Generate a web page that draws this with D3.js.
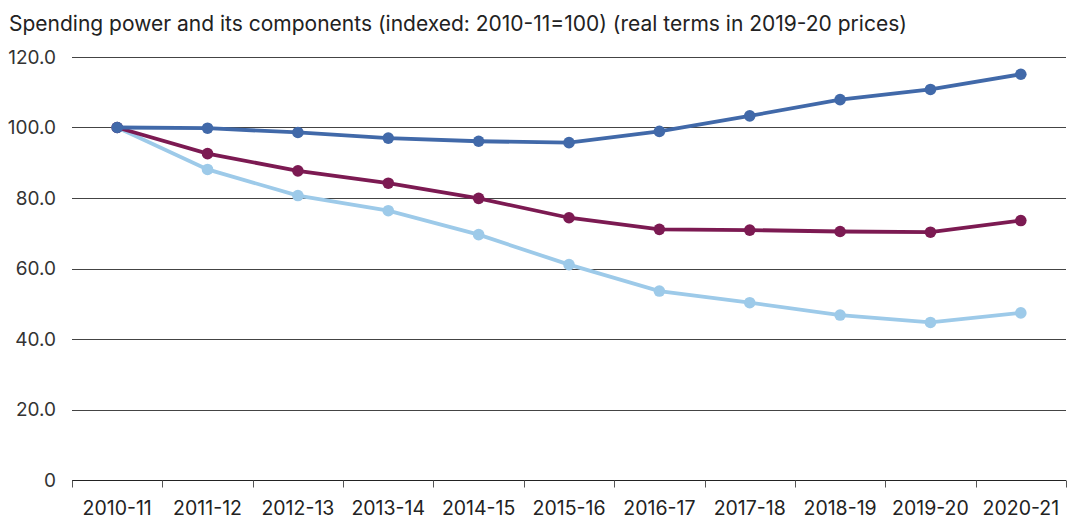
<!DOCTYPE html>
<html>
<head>
<meta charset="utf-8">
<script src="https://cdn.jsdelivr.net/npm/d3@7"></script>
<style>
  body { margin: 0; background: #fff; }
  text { font-family: Inter, "Liberation Sans", Arial, sans-serif; fill: #222; }
</style>
</head>
<body>
<div id="chart"></div>
<script>
// data
var years = ["2010-11", "2011-12", "2012-13", "2013-14", "2014-15", "2015-16",
             "2016-17", "2017-18", "2018-19", "2019-20", "2020-21"];
var spendingPower = [100, 99.8, 98.6, 97.0, 96.1, 95.7, 98.9, 103.3, 107.9, 110.8, 115.1];
var midComponent  = [100, 92.6, 87.7, 84.2, 79.9, 74.4, 71.1, 70.9, 70.5, 70.3, 73.6];
var lowComponent  = [100, 88.1, 80.7, 76.4, 69.6, 61.1, 53.6, 50.3, 46.8, 44.7, 47.4];
var yTicks = [0, 20, 40, 60, 80, 100, 120];

var series = [
  {values: lowComponent, color: "#9dcae9"},
  {values: midComponent, color: "#7c1a52"},
  {values: spendingPower, color: "#4169a9"}
];

var W = 1071, H = 520;
var margin = {top: 57, right: 5, bottom: 40, left: 72};

var svg = d3.select("#chart").append("svg")
    .attr("width", W)
    .attr("height", H);

var x = d3.scaleBand()
    .domain(years)
    .range([margin.left, W - margin.right]);

var y = d3.scaleLinear()
    .domain([0, 120])
    .range([H - margin.bottom, margin.top]);

// title
svg.append("text")
    .attr("x", 9)
    .attr("y", 31)
    .style("font-size", "21px")
    .text("Spending power and its components (indexed: 2010-11=100) (real terms in 2019-20 prices)");

// gridlines
svg.append("g")
  .selectAll("line")
    .data(yTicks.filter(function(d) { return d > 0; }))
  .enter().append("line")
    .attr("x1", margin.left)
    .attr("x2", W - margin.right)
    .attr("y1", function(d) { return Math.round(y(d)) + 0.5; })
    .attr("y2", function(d) { return Math.round(y(d)) + 0.5; })
    .attr("stroke", "#444")
    .attr("stroke-width", 1);

// y labels
svg.append("g")
  .selectAll("text")
    .data(yTicks)
  .enter().append("text")
    .attr("x", 56)
    .attr("y", function(d) { return y(d); })
    .attr("dy", "0.36em")
    .attr("text-anchor", "end")
    .style("font-size", "19px")
    .style("fill", "#333")
    .text(function(d) { return d === 0 ? "0" : d3.format(".1f")(d); });

// x axis: baseline with ticks at band edges
var xAxis = svg.append("g")
    .attr("transform", "translate(0," + (H - margin.bottom + 0.5) + ")");

xAxis.append("line")
    .attr("x1", margin.left)
    .attr("x2", W - margin.right)
    .attr("stroke", "#222");

var edges = years.map(function(d) { return x(d); }).concat([x(years[years.length - 1]) + x.bandwidth()]);
xAxis.selectAll(".tick")
    .data(edges)
  .enter().append("line")
    .attr("class", "tick")
    .attr("x1", function(d) { return Math.round(d) + 0.5; })
    .attr("x2", function(d) { return Math.round(d) + 0.5; })
    .attr("y1", 0)
    .attr("y2", 7)
    .attr("stroke", "#555");

xAxis.selectAll(".label")
    .data(years)
  .enter().append("text")
    .attr("class", "label")
    .attr("x", function(d) { return x(d) + x.bandwidth() / 2; })
    .attr("y", 34.5)
    .attr("text-anchor", "middle")
    .style("font-size", "19.5px")
    .text(function(d) { return d; });

// lines and dots
var line = d3.line()
    .x(function(d, i) { return x(years[i]) + x.bandwidth() / 2; })
    .y(function(d) { return y(d); });

series.forEach(function(s) {
  svg.append("path")
      .datum(s.values)
      .attr("fill", "none")
      .attr("stroke", s.color)
      .attr("stroke-width", 3.8)
      .attr("d", line);

  svg.append("g")
    .selectAll("circle")
      .data(s.values)
    .enter().append("circle")
      .attr("cx", function(d, i) { return x(years[i]) + x.bandwidth() / 2; })
      .attr("cy", function(d) { return y(d); })
      .attr("r", 5.8)
      .attr("fill", s.color);
});
</script>
</body>
</html>
